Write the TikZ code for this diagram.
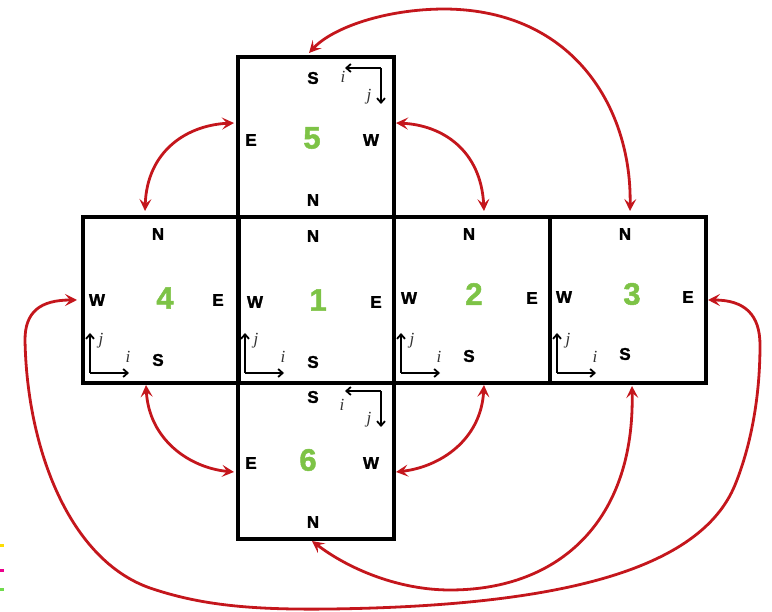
\documentclass[tikz,border=0pt]{standalone}
\usepackage{fontspec}
\setmainfont{Liberation Sans}
\newfontfamily\ijfont{Liberation Serif}
\newfontfamily\heavyfont{Liberation Sans}[BoldFeatures={FakeBold=1.6}]
\usetikzlibrary{arrows.meta}
\definecolor{facegreen}{HTML}{7DC346}
\definecolor{linkred}{HTML}{C4161C}
\tikzset{
  face/.style={draw=black, line width=3.6pt, minimum width=156pt, minimum height=166pt, inner sep=0pt, anchor=north west},
  facetall/.style={face, minimum height=160pt},
  facetall6/.style={face, minimum height=156pt},
  dirlabel/.style={font=\fontsize{17}{20}\selectfont\heavyfont\bfseries, inner sep=0pt},
  facenum/.style={font=\fontsize{31}{34}\selectfont\heavyfont\bfseries, text=facegreen, inner sep=0pt},
  axis/.style={line width=1.8pt, -{Straight Barb[length=4.5pt,width=8pt]}},
  axlabel/.style={font=\fontsize{17}{19}\selectfont\ijfont\itshape, inner sep=0pt, text=black!80},
  link/.style={draw=linkred, line width=2.8pt, {Stealth[length=12pt,width=12pt,inset=5pt]}-{Stealth[length=12pt,width=12pt,inset=5pt]}},
}
\begin{document}
\begin{tikzpicture}[x=1pt,y=-1pt]
\useasboundingbox (0,0) rectangle (772,612);
% faces
\node[face] (f4) at (81,215) {};
\node[face] (f1) at (236,215) {};
\node[face] (f2) at (392,215) {};
\node[face] (f3) at (548,215) {};
\node[facetall] (f5) at (236,55) {};
\node[facetall6] (f6) at (236,381) {};
% face 5
\node[dirlabel] (f5s) at (313,78) {S};
\node[dirlabel] (f5e) at (251,140) {E};
\node[dirlabel] (f5w) at (371,140) {W};
\node[dirlabel] (f5n) at (313,200) {N};
\node[facenum] (f5num) at (312,138) {5};
\coordinate (c5) at (381,68);
\coordinate (c5i) at (345,68);
\coordinate (c5j) at (381,104);
\draw[axis] (c5) -- (c5i);
\draw[axis] (c5) -- (c5j);
\node[axlabel] (l5i) at (343,77) {i};
\node[axlabel] (l5j) at (369,97) {j};
% face 6
\node[dirlabel] (f6s) at (313,397) {S};
\node[dirlabel] (f6e) at (251,463) {E};
\node[dirlabel] (f6w) at (371,463) {W};
\node[dirlabel] (f6n) at (313,522) {N};
\node[facenum] (f6num) at (308,460) {6};
\coordinate (c6) at (381,391);
\coordinate (c6i) at (345,391);
\coordinate (c6j) at (381,427);
\draw[axis] (c6) -- (c6i);
\draw[axis] (c6) -- (c6j);
\node[axlabel] (l6i) at (342,405) {i};
\node[axlabel] (l6j) at (369,420) {j};
% face 4
\node[dirlabel] (f4n) at (158,234) {N};
\node[dirlabel] (f4w) at (97,300) {W};
\node[dirlabel] (f4e) at (218,300) {E};
\node[dirlabel] (f4s) at (158,360) {S};
\node[facenum] (f4num) at (165,298) {4};
% face 1
\node[dirlabel] (f1n) at (313,236) {N};
\node[dirlabel] (f1w) at (255,302) {W};
\node[dirlabel] (f1e) at (376,302) {E};
\node[dirlabel] (f1s) at (313,362) {S};
\node[facenum] (f1num) at (318,300) {1};
% face 2
\node[dirlabel] (f2n) at (469,234) {N};
\node[dirlabel] (f2w) at (409,298) {W};
\node[dirlabel] (f2e) at (532,298) {E};
\node[dirlabel] (f2s) at (469,356) {S};
\node[facenum] (f2num) at (474,294) {2};
% face 3
\node[dirlabel] (f3n) at (625,234) {N};
\node[dirlabel] (f3w) at (564,297) {W};
\node[dirlabel] (f3e) at (688,297) {E};
\node[dirlabel] (f3s) at (625,354) {S};
\node[facenum] (f3num) at (632,294) {3};
% axes of faces 4,1,2,3
\foreach \n/\cx in {4/90,1/245,2/401,3/557}{
  \coordinate (c\n) at (\cx,373);
  \coordinate (c\n j) at (\cx,333);
  \coordinate (c\n i) at (\cx+39,373);
  \draw[axis] (c\n) -- (c\n j);
  \draw[axis] (c\n) -- (c\n i);
  \node[axlabel] (l\n j) at (\cx+11,341) {j};
  \node[axlabel] (l\n i) at (\cx+38,357) {i};
}
% link end points
\coordinate (p4n) at (145,211);
\coordinate (p5e) at (234,123);
\coordinate (p5w) at (396,123);
\coordinate (p2n) at (484,211);
\coordinate (p4s) at (146,385);
\coordinate (p6e) at (234,472);
\coordinate (p2s) at (484,385);
\coordinate (p6w) at (396,472);
\coordinate (p3n) at (630,211);
\coordinate (p5t) at (309,53);
\coordinate (p3s) at (632,386);
\coordinate (p6b) at (312,541);
\coordinate (p4w) at (77,300);
\coordinate (p3e) at (708,300);
% links
\draw[link] (p4n) .. controls (147,150) and (188,125) .. (p5e);
\draw[link] (p2n) .. controls (481,150) and (442,125) .. (p5w);
\draw[link] (p4s) .. controls (149,440) and (190,468) .. (p6e);
\draw[link] (p2s) .. controls (481,440) and (440,467) .. (p6w);
\draw[link] (p3n) .. controls (632,110) and (575,10) .. (445,9)
                  .. controls (385,9) and (332,28) .. (p5t);
\draw[link] (p3s) .. controls (635,520) and (560,590) .. (450,590)
                  .. controls (400,590) and (350,570) .. (p6b);
\draw[link] (p4w) .. controls (40,300) and (25,312) .. (25,340)
                  .. controls (27,450) and (70,560) .. (150,588)
                  .. controls (200,605) and (250,610) .. (330,609)
                  .. controls (560,606) and (700,570) .. (735,485)
                  .. controls (750,448) and (760,400) .. (760,345)
                  .. controls (760,315) and (745,300) .. (p3e);
% small colour marks at the left edge
\fill[yellow!80!orange] (0,544) rectangle (4,547) coordinate (my);
\fill[magenta] (0,569) rectangle (4,572) coordinate (mm);
\fill[green!60!olive!70] (0,588) rectangle (4,591) coordinate (mg);
\end{tikzpicture}
\end{document}
